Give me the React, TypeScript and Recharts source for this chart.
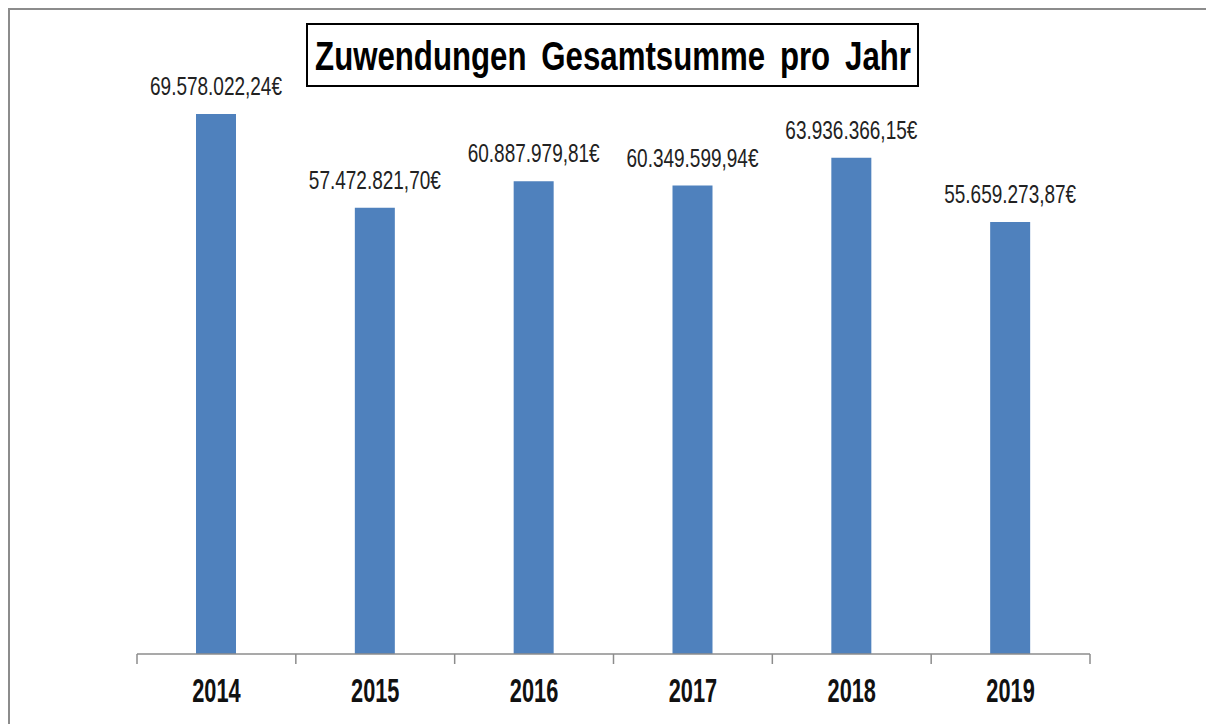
import { BarChart, Bar, XAxis, YAxis, LabelList } from "recharts";

const years = ["2014", "2015", "2016", "2017", "2018", "2019"];
const totals = [69578022.24, 57472821.7, 60887979.81, 60349599.94, 63936366.15, 55659273.87];
const chartTitle = "Zuwendungen Gesamtsumme pro Jahr";

const data = years.map((year, i) => ({ year, total: totals[i] }));

// german number format: 69.578.022,24€
function formatEuro(v: number) {
  const [int, dec] = v.toFixed(2).split(".");
  const grouped = int.replace(/\B(?=(\d{3})+(?!\d))/g, ".");
  return `${grouped},${dec}€`;
}

const FONT = "'Liberation Sans', Arial, sans-serif";

function YearTick(props: any) {
  const { x, y, payload, index } = props;
  const half = payload.offset || 0;
  return (
    <g>
      <line x1={x - half} y1={y} x2={x - half} y2={y + 10} stroke="#8c8c8c" strokeWidth={1.5} />
      {index === years.length - 1 && (
        <line x1={x + half} y1={y} x2={x + half} y2={y + 10} stroke="#8c8c8c" strokeWidth={1.5} />
      )}
      <text
        transform={`translate(${x},${y + 48}) scale(0.66,1)`}
        textAnchor="middle"
        fontFamily={FONT}
        fontWeight="bold"
        fontSize={33}
        fill="#111"
      >
        {payload.value}
      </text>
    </g>
  );
}

function ValueLabel(props: any) {
  const { x, y, width, value } = props;
  return (
    <text
      transform={`translate(${x + width / 2},${y - 19}) scale(0.76,1)`}
      textAnchor="middle"
      fontFamily={FONT}
      fontSize={25}
      fill="#222"
    >
      {formatEuro(value)}
    </text>
  );
}

export default function App() {
  return (
    <div style={{ position: "absolute", left: 0, top: 0, width: 1206, height: 724, background: "#fff" }}>
      <BarChart
        width={1206}
        height={724}
        data={data}
        margin={{ top: 33, right: 116, bottom: 0, left: 137 }}
      >
        <XAxis
          dataKey="year"
          height={70}
          tickLine={false}
          tickSize={0}
          tickMargin={0}
          axisLine={{ stroke: "#8c8c8c", strokeWidth: 1.5 }}
          tick={<YearTick />}
          interval={0}
        />
        <YAxis hide domain={[0, 80000000]} />
        <Bar dataKey="total" fill="#4f81bd" barSize={40} isAnimationActive={false}>
          <LabelList dataKey="total" content={<ValueLabel />} />
        </Bar>
      </BarChart>
      <svg
        width={1206}
        height={724}
        style={{ position: "absolute", left: 0, top: 0, pointerEvents: "none" }}
      >
        <rect x={9} y={9} width={1220} height={740} fill="none" stroke="#8c8c8c" strokeWidth={2} />
        <rect x={307} y={24} width={611} height={62} fill="#fff" stroke="#000" strokeWidth={2} />
        <text
          transform="translate(613,70) scale(0.78,1)"
          textAnchor="middle"
          fontFamily={FONT}
          fontWeight="bold"
          fontSize={40}
          fill="#000"
          wordSpacing={8}
        >
          {chartTitle}
        </text>
      </svg>
    </div>
  );
}
